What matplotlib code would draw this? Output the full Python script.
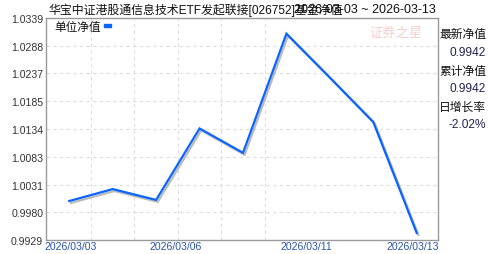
import matplotlib
matplotlib.use("Agg")
import matplotlib.pyplot as plt
import matplotlib.patheffects as pe
import numpy as np

plt.rcParams['font.family'] = ['Liberation Sans', 'Noto Sans CJK SC', 'DejaVu Sans']

# ---- data ----
dates = ["2026/03/03", "2026/03/04", "2026/03/05", "2026/03/06", "2026/03/09",
         "2026/03/10", "2026/03/11", "2026/03/12", "2026/03/13"]
nav = [1.0001, 1.0023, 1.0003, 1.0135, 1.0090, 1.0310, 1.0229, 1.0147, 0.9942]
y_ticks = [0.9929, 0.9980, 1.0031, 1.0083, 1.0134, 1.0185, 1.0237, 1.0288, 1.0339]
x_tick_labels = ["2026/03/03", "2026/03/06", "2026/03/11", "2026/03/13"]
title_left = "华宝中证港股通信息技术ETF发起联接[026752]基金净值"
title_right = "2026-03-03 ~ 2026-03-13"
legend_label = "单位净值"
side_labels = ["最新净值", "累计净值", "日增长率"]
side_values = ["0.9942", "0.9942", "-2.02%"]
watermark = "证券之星"

# ---- layout ----
W, H = 488, 255
fig = plt.figure(figsize=(W / 100, H / 100), dpi=100)
ax = fig.add_axes([46 / W, 1 - 241 / H, (438 - 46) / W, (241 - 19) / H])

x = np.arange(len(nav))
ax.plot(x, nav, color="#0a64ff", lw=1.6, solid_joinstyle="miter",
        path_effects=[pe.SimpleLineShadow(offset=(1.2, -1.4), shadow_color="#aaaaaa", alpha=0.8),
                      pe.Normal()], zorder=3)

ax.set_xlim(-0.536, 8.49)
ax.set_ylim(y_ticks[0], y_ticks[-1])
ax.set_yticks(y_ticks)
ax.set_yticklabels([f"{v:.4f}" for v in y_ticks], fontsize=7.6, color="#333333")
ax.set_xticks([0.04, 2.46, 5.45, 7.91])
ax.set_xticklabels(x_tick_labels, fontsize=7.6, color="#2a55a8")
ax.set_xticks(np.arange(0.5, 5, 1.0), minor=True)
ax.tick_params(axis="both", which="both", length=0, pad=1)
ax.tick_params(axis="y", pad=2)
ax.grid(True, axis="y", which="major", ls=(0, (3, 3)), color="#dddddd", lw=0.8)
ax.grid(True, axis="x", which="minor", ls=(0, (3, 3)), color="#dddddd", lw=0.8)
for s in ax.spines.values():
    s.set_color("#9a9a9a")
    s.set_linewidth(1.0)

# title
fig.text(48 / W, 1 - 10 / H, title_left, fontsize=8.6, color="#111111", va="center", ha="left")
fig.text(436 / W, 1 - 10 / H, title_right, fontsize=9.0, color="#111111", va="center", ha="right")

# legend
fig.text(54 / W, 1 - 28 / H, legend_label, fontsize=8.4, color="#111111", va="center", ha="left")
fig.patches.append(plt.Rectangle((104 / W, 1 - 27.5 / H), 7 / W, 2.2 / H,
                                 transform=fig.transFigure, color="#0a64ff", zorder=5))

# watermark
fig.text(396 / W, 1 - 34 / H, watermark, fontsize=9.5, color="#f6cfcf", va="center",
         ha="center", style="italic")

# side panel
ys_lab = [35, 72, 108]
ys_val = [53, 89, 125]
for lab, val, yl, yv in zip(side_labels, side_values, ys_lab, ys_val):
    fig.text(439 / W, 1 - yl / H, lab, fontsize=8.5, color="#111111", va="center", ha="left")
    fig.text(486 / W, 1 - yv / H, val, fontsize=8.6, color="#222255", va="center", ha="right")

fig.savefig("out.png", dpi=100)
